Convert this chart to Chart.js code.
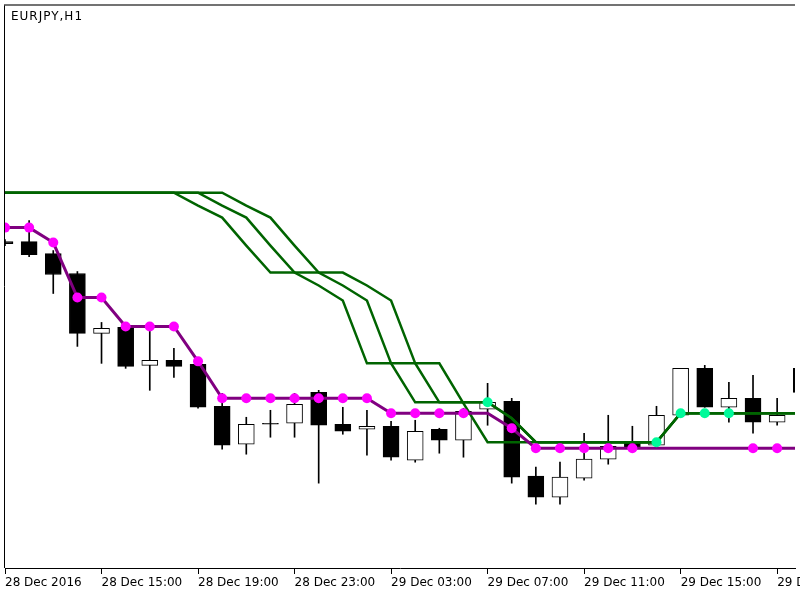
<!DOCTYPE html>
<html><head><meta charset="utf-8">
<script src="https://cdn.jsdelivr.net/npm/chart.js@4/dist/chart.umd.min.js"></script>
<style>html,body{margin:0;padding:0;background:#fff;overflow:hidden}</style>
</head><body>
<canvas id="c" width="800" height="600"></canvas>
<script>
const chartTitle = "EURJPY,H1";
const tickBars = [0, 4, 8, 12, 16, 20, 24, 28, 32];
const tickLabels = ["28 Dec 2016", "28 Dec 15:00", "28 Dec 19:00", "28 Dec 23:00", "29 Dec 03:00", "29 Dec 07:00", "29 Dec 11:00", "29 Dec 15:00", "29 Dec 19:00"];

const opens  = [122.526,122.526,122.502,122.462,122.342,122.354,122.278,122.288,122.280,122.196,122.120,122.162,122.162,122.224,122.160,122.150,122.156,122.088,122.150,122.128,122.190,122.206,122.056,122.014,122.052,122.090,122.122,122.118,122.178,122.272,122.194,122.212,122.164,122.272];
const highs  = [122.530,122.568,122.508,122.466,122.364,122.358,122.354,122.312,122.284,122.222,122.174,122.188,122.222,122.228,122.194,122.188,122.166,122.168,122.152,122.192,122.242,122.212,122.074,122.084,122.142,122.178,122.156,122.196,122.272,122.278,122.244,122.258,122.212,122.284];
const lows   = [122.518,122.496,122.422,122.316,122.282,122.272,122.228,122.254,122.192,122.110,122.100,122.134,122.134,122.042,122.140,122.098,122.088,122.084,122.102,122.094,122.158,122.042,122.000,122.000,122.048,122.080,122.112,122.116,122.178,122.194,122.164,122.142,122.158,122.212];
const closes = [122.522,122.500,122.460,122.342,122.352,122.276,122.288,122.276,122.194,122.118,122.160,122.160,122.200,122.158,122.146,122.156,122.094,122.146,122.128,122.186,122.204,122.054,122.014,122.054,122.090,122.116,122.114,122.178,122.272,122.194,122.212,122.164,122.178,122.224];

const purpleLine = [122.554,122.554,122.524,122.414,122.414,122.356,122.356,122.356,122.286,122.212,122.212,122.212,122.212,122.212,122.212,122.212,122.182,122.182,122.182,122.182,122.182,122.152,122.112,122.112,122.112,122.112,122.112,122.112,122.112,122.112,122.112,122.112,122.112,122.112];
const magentaDots = [122.554,122.554,122.524,122.414,122.414,122.356,122.356,122.356,122.286,122.212,122.212,122.212,122.212,122.212,122.212,122.212,122.182,122.182,122.182,122.182,null,122.152,122.112,122.112,122.112,122.112,122.112,null,null,null,null,122.112,122.112,122.112];

const green1 = [122.624,122.624,122.624,122.624,122.624,122.624,122.624,122.624,122.598,122.574,122.518,122.464,122.464,122.464,122.464,122.438,122.408,122.282,122.282,122.202,122.124,122.124,122.124,122.124,122.124,122.124,122.124,122.124,122.182,122.182,122.182,122.182,122.182,122.182];
const green2 = [122.624,122.624,122.624,122.624,122.624,122.624,122.624,122.624,122.624,122.598,122.574,122.518,122.464,122.438,122.408,122.282,122.282,122.204,122.204,122.204,122.204,122.172,122.124,122.124,122.124,122.124,122.124,122.124,122.182,122.182,122.182,122.182,122.182,122.182];
const green3 = [122.624,122.624,122.624,122.624,122.624,122.624,122.624,122.624,122.624,122.624,122.598,122.574,122.518,122.464,122.438,122.408,122.282,122.282,122.204,122.204,122.204,122.172,122.124,122.124,122.124,122.124,122.124,122.124,122.182,122.182,122.182,122.182,122.182,122.182];
const cyanDots = [null,null,null,null,null,null,null,null,null,null,null,null,null,null,null,null,null,null,null,null,122.204,null,null,null,null,null,null,122.124,122.182,122.182,122.182,null,null,null];

const bars = opens.map((_, i) => i);
const xy = arr => arr.map((v, i) => ({x: i, y: v}));

const framePlugin = {
  id: 'frame',
  afterDraw(chart) {
    const {ctx, chartArea: a} = chart;
    ctx.save();
    ctx.strokeStyle = '#000';
    ctx.lineWidth = 1;
    ctx.beginPath();
    ctx.moveTo(a.left - 0.5, a.bottom);
    ctx.lineTo(a.left - 0.5, a.top);
    ctx.stroke();
    ctx.strokeStyle = '#444';
    ctx.lineWidth = 1.5;
    ctx.beginPath();
    ctx.moveTo(a.left - 1, a.top);
    ctx.lineTo(a.right, a.top);
    ctx.stroke();
    ctx.fillStyle = '#000';
    ctx.font = '12px "DejaVu Sans"';
    ctx.letterSpacing = '1px';
    ctx.textBaseline = 'top';
    ctx.fillText(chartTitle, a.left + 6, a.top + 6);
    ctx.restore();
  }
};

new Chart(document.getElementById('c'), {
  type: 'bar',
  data: {
    datasets: [
      { type: 'bar', data: bars.map(i => ({x: i, y: [lows[i], highs[i]]})), backgroundColor: '#000', borderWidth: 0, barThickness: 1, grouped: false, order: 10 },
      { type: 'bar', data: bars.map(i => ({x: i, y: [opens[i], closes[i]]})),
        backgroundColor: bars.map(i => closes[i] > opens[i] ? '#fff' : '#000'),
        borderColor: '#000', borderWidth: 1, borderSkipped: false, barThickness: 16, grouped: false, order: 9 },
      { type: 'line', data: xy(green1), borderColor: '#006400', borderWidth: 2.5, pointRadius: 0, tension: 0, order: 5 },
      { type: 'line', data: xy(green2), borderColor: '#006400', borderWidth: 2.5, pointRadius: 0, tension: 0, order: 5 },
      { type: 'line', data: xy(green3), borderColor: '#006400', borderWidth: 2.5, pointRadius: 0, tension: 0, order: 5 },
      { type: 'line', data: xy(purpleLine), borderColor: '#800080', borderWidth: 3, pointRadius: 0, tension: 0, order: 3 },
      { type: 'line', data: xy(magentaDots), showLine: false, pointRadius: 5, pointBackgroundColor: '#ff00ff', pointBorderWidth: 0, order: 1 },
      { type: 'line', data: xy(cyanDots), showLine: false, pointRadius: 5, pointBackgroundColor: '#00fa9a', pointBorderWidth: 0, order: 0 }
    ]
  },
  options: {
    responsive: false,
    animation: false,
    layout: { padding: { left: 5, top: 4, right: 0, bottom: 0 } },
    plugins: { legend: { display: false }, tooltip: { enabled: false } },
    scales: {
      x: {
        type: 'linear', min: 0, max: 32.74, offset: false,
        grid: { offset: false, drawOnChartArea: false, drawTicks: true, tickLength: 6, color: '#000' },
        border: { display: true, color: '#000', width: 1 },
        afterBuildTicks: axis => { axis.ticks = tickBars.map(v => ({value: v})); },
        afterFit: axis => { axis.height = 32; axis.paddingLeft = 0; axis.paddingRight = 0; },
        ticks: {
          autoSkip: false, maxRotation: 0, minRotation: 0, align: 'start', padding: 2,
          color: '#000', font: { family: 'DejaVu Sans', size: 12 },
          callback: (v, i) => tickLabels[i]
        }
      },
      y: { display: false, min: 121.872, max: 123.000 }
    }
  },
  plugins: [framePlugin]
});
</script>
</body></html>
